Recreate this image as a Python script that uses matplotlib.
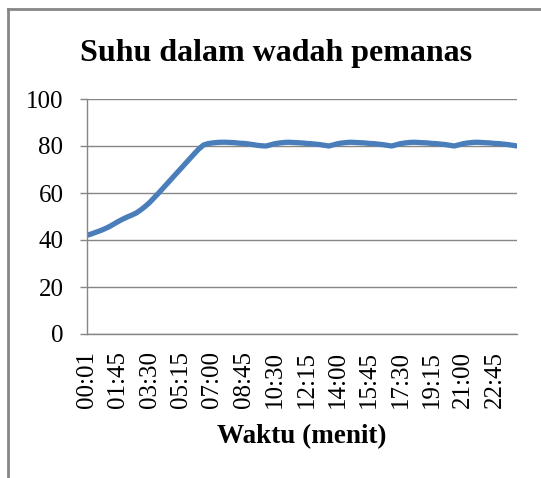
import matplotlib
matplotlib.use("Agg")
import matplotlib.pyplot as plt
from matplotlib.lines import Line2D

plt.rcParams['font.family'] = ['Liberation Serif', 'DejaVu Serif']

# time stamps every 15 s (first reading at 00:01)
times = ["00:01"] + [f"{s // 60:02d}:{s % 60:02d}" for s in range(15, 1441, 15)]

suhu = [42.0, 42.6, 43.3, 44.0, 44.8, 45.7, 46.8, 47.9, 48.9, 49.8,
        50.6, 51.5, 52.8, 54.3, 56.0, 58.0, 60.0, 62.1, 64.2, 66.3,
        68.4, 70.5, 72.6, 74.7, 76.8, 78.8, 80.4, 81.0, 81.3, 81.5,
        81.6, 81.6, 81.5, 81.4, 81.2, 81.1, 80.9, 80.6, 80.3, 80.1,
        80.0, 80.5, 81.0, 81.3, 81.5, 81.6, 81.5, 81.4, 81.3, 81.1,
        81.0, 80.8, 80.6, 80.3, 80.0, 80.5, 81.0, 81.3, 81.5, 81.6,
        81.5, 81.4, 81.3, 81.1, 81.0, 80.8, 80.6, 80.3, 80.0, 80.5,
        81.0, 81.3, 81.5, 81.6, 81.5, 81.4, 81.3, 81.1, 81.0, 80.8,
        80.6, 80.3, 80.0, 80.5, 81.0, 81.3, 81.5, 81.6, 81.5, 81.4,
        81.3, 81.1, 81.0, 80.8, 80.6, 80.3, 80.0]

tick_labels = ["00:01", "01:45", "03:30", "05:15", "07:00", "08:45", "10:30",
               "12:15", "14:00", "15:45", "17:30", "19:15", "21:00", "22:45"]

grey = "#868686"

fig = plt.figure(figsize=(5.41, 4.78), dpi=100)
ax = fig.add_axes([87 / 541, 1 - 334 / 478, 430 / 541, 235 / 478])

ax.plot(range(len(times)), suhu, color="#4A7EBB", lw=3.8, solid_capstyle="round")

ax.set_xlim(0, len(times) - 1)
ax.set_ylim(0, 100)
ax.set_yticks(range(0, 101, 20))
ax.set_xticks([times.index(t) for t in tick_labels])
ax.set_xticklabels(tick_labels, rotation=90)
ax.tick_params(axis="x", length=0, pad=12, labelsize=18)
ax.tick_params(axis="y", length=5, color=grey, width=1, pad=12, labelsize=18)
ax.yaxis.grid(True, color=grey, lw=1)
ax.set_axisbelow(True)
for s in ["top", "right"]:
    ax.spines[s].set_visible(False)
for s in ["left", "bottom"]:
    ax.spines[s].set_color(grey)
    ax.spines[s].set_linewidth(1)

fig.text(0.5 * (80 + 472) / 541, 1 - 53 / 478, "Suhu dalam wadah pemanas",
         fontsize=23, fontweight="bold", ha="center", va="center")
fig.text(302 / 541, 1 - 437 / 478, "Waktu (menit)",
         fontsize=19.5, fontweight="bold", ha="center", va="center")

# outer chart border (left and top edges; it runs off right and bottom)
bx, by = 8 / 541, 1 - 9 / 478
fig.add_artist(Line2D([bx, bx], [0.0, by], transform=fig.transFigure,
                      color=grey, lw=2))
fig.add_artist(Line2D([bx, 1.0], [by, by], transform=fig.transFigure,
                      color=grey, lw=2))

fig.savefig("out.png", dpi=100)
